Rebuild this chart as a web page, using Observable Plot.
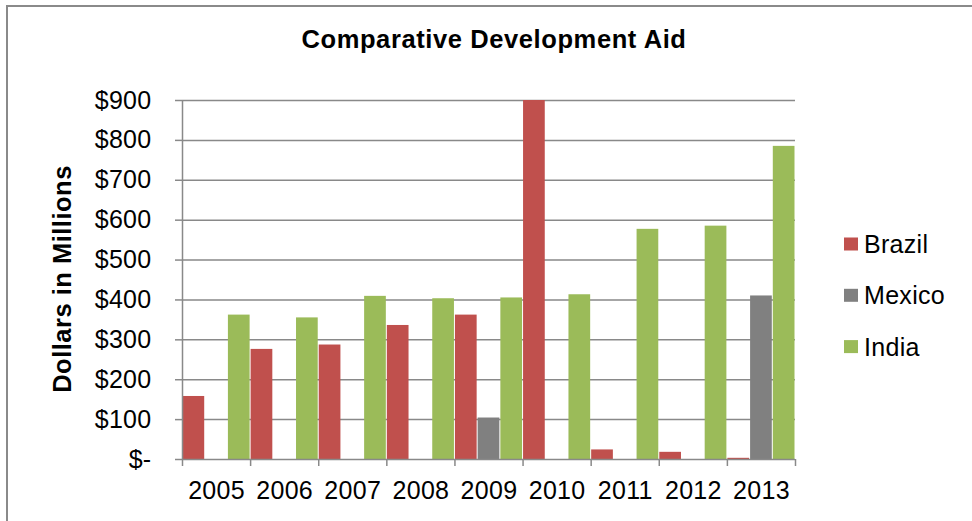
<!DOCTYPE html>
<html><head><meta charset="utf-8">
<script src="https://cdn.jsdelivr.net/npm/d3@7"></script>
<script src="https://cdn.jsdelivr.net/npm/@observablehq/plot@0.6"></script>
<style>
html,body{margin:0;padding:0;background:#fff;}
#wrap{position:relative;width:972px;height:521px;overflow:hidden;background:#fff;}
#border{position:absolute;left:6px;top:5px;width:1200px;height:1200px;border:2px solid #8a8a8a;box-sizing:border-box;}
#chart{position:absolute;left:0;top:0;}
</style></head><body>
<div id="wrap"><div id="border"></div><div id="chart"></div></div>
<script>
const title = "Comparative Development Aid";
const yLabel = "Dollars in Millions";
const years = ["2005","2006","2007","2008","2009","2010","2011","2012","2013"];
const countries = ["Brazil","Mexico","India"];
const brazil = [158, 276, 287, 336, 362, 900, 24, 18, 3];
const mexico = [0, 0, 0, 0, 104, 0, 0, 0, 410];
const india  = [362, 355, 409, 403, 405, 413, 577, 585, 785];
const yTicks = [0, 100, 200, 300, 400, 500, 600, 700, 800, 900];
const colors = ["#C0504D", "#808080", "#9BBB59"];

const seriesValues = [brazil, mexico, india];
const rows = [];
years.forEach((year, yi) => {
  countries.forEach((country, si) => {
    rows.push({year, yi, country, si, value: seriesValues[si][yi]});
  });
});
const n = countries.length;
const boundaries = d3.range(years.length + 1);
const gridColor = "#898989";

const chart = Plot.plot({
  width: 972, height: 521,
  marginLeft: 182, marginRight: 177, marginTop: 100, marginBottom: 62,
  style: {fontFamily: "'Liberation Sans', Arial, sans-serif", fontSize: "25px", color: "#000", background: "transparent", overflow: "visible", letterSpacing: "0.3px"},
  x: {domain: [0, years.length], label: null},
  y: {domain: [0, 900], label: null},
  color: {domain: countries, range: colors},
  marks: [
    Plot.ruleY(yTicks.filter(d => d > 0), {y: d => d, stroke: gridColor, strokeWidth: 1.5}),
    Plot.rectY(rows.filter(d => d.value > 0), {
      x1: d => d.yi + d.si / n,
      x2: d => d.yi + (d.si + 1) / n,
      y1: 0, y2: "value",
      fill: "country",
      insetLeft: 0.5, insetRight: 0.5
    }),
    Plot.ruleX([0], {stroke: gridColor, strokeWidth: 1.5}),
    Plot.ruleY([0], {stroke: gridColor, strokeWidth: 1.5}),
    Plot.axisY(yTicks, {
      label: null,
      tickSize: 7, tickPadding: 24, stroke: gridColor, strokeWidth: 1.5,
      tickFormat: d => d === 0 ? "$-" : "$" + d, fill: "#000", fontSize: 25
    }),
    Plot.axisX(boundaries, {label: null, tickSize: 7, tickFormat: () => "", stroke: gridColor, strokeWidth: 1.5}),
    Plot.text(years, {x: (d, i) => i + 0.5, y: () => 0, dy: 31, lineAnchor: "middle", fill: "#000", fontSize: 25})
  ]
});
document.getElementById("chart").appendChild(chart);

const svg = d3.select(chart);
svg.append("text")
  .attr("x", 494).attr("y", 47.5)
  .attr("text-anchor", "middle")
  .attr("font-weight", "bold").attr("font-size", 25.5)
  .style("letter-spacing", "0.6px")
  .attr("fill", "#000")
  .text(title);
svg.append("text")
  .attr("transform", "translate(70.5,279) rotate(-90)")
  .attr("text-anchor", "middle")
  .attr("font-weight", "bold").attr("font-size", 25.5)
  .style("letter-spacing", "0.5px")
  .attr("fill", "#000")
  .text(yLabel);

const color = chart.scale("color");
const legend = svg.append("g").attr("text-anchor", "start");
countries.forEach((c, i) => {
  const cy = 244 + i * 51.3;
  legend.append("rect").attr("x", 844).attr("y", cy - 6.5).attr("width", 14).attr("height", 13)
    .attr("fill", color.apply(c));
  legend.append("text").attr("x", 864).attr("y", cy).attr("dy", "0.36em")
    .attr("text-anchor", "start")
    .attr("font-size", 25).attr("fill", "#000").text(c);
});
</script>
</body></html>
